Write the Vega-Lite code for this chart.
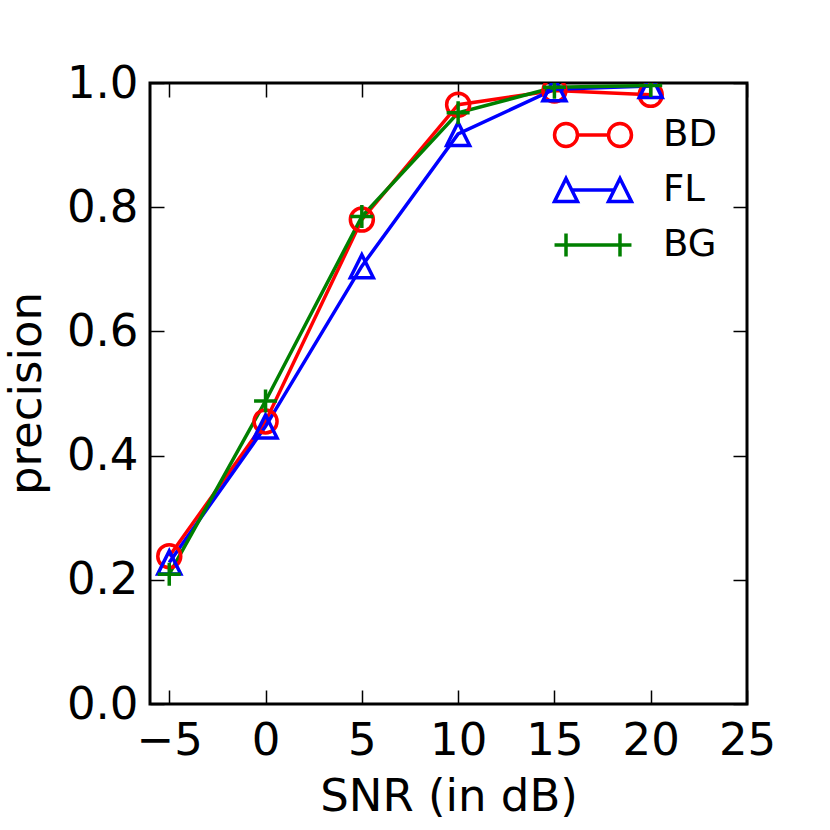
{
  "$schema": "https://vega.github.io/schema/vega-lite/v6.json",
  "autosize": "none",
  "padding": {"left": 150, "top": 83, "right": 83, "bottom": 126},
  "width": 597,
  "height": 621,
  "background": "white",
  "config": {
    "font": "DejaVu Sans",
    "view": {"stroke": "black", "strokeWidth": 3},
    "axis": {
      "grid": false,
      "domain": false,
      "tickColor": "black",
      "tickWidth": 1.5,
      "tickSize": -14,
      "labelColor": "black",
      "labelFont": "DejaVu Sans",
      "labelFontSize": 45,
      "labelFlush": false,
      "titleColor": "black",
      "titleFont": "DejaVu Sans",
      "titleFontSize": 45,
      "titleFontWeight": "normal"
    }
  },
  "data": {
    "values": [
      {"snr": -5, "precision": 0.238, "series": "BD"},
      {"snr": 0, "precision": 0.455, "series": "BD"},
      {"snr": 5, "precision": 0.780, "series": "BD"},
      {"snr": 10, "precision": 0.965, "series": "BD"},
      {"snr": 15, "precision": 0.988, "series": "BD"},
      {"snr": 20, "precision": 0.981, "series": "BD"},
      {"snr": -5, "precision": 0.228, "series": "FL"},
      {"snr": 0, "precision": 0.447, "series": "FL"},
      {"snr": 5, "precision": 0.705, "series": "FL"},
      {"snr": 10, "precision": 0.918, "series": "FL"},
      {"snr": 15, "precision": 0.990, "series": "FL"},
      {"snr": 20, "precision": 0.995, "series": "FL"},
      {"snr": -5, "precision": 0.209, "series": "BG"},
      {"snr": 0, "precision": 0.488, "series": "BG"},
      {"snr": 5, "precision": 0.785, "series": "BG"},
      {"snr": 10, "precision": 0.952, "series": "BG"},
      {"snr": 15, "precision": 0.993, "series": "BG"},
      {"snr": 20, "precision": 0.996, "series": "BG"}
    ]
  },
  "resolve": {
    "scale": {"color": "independent", "shape": "independent"},
    "axis": {"x": "independent", "y": "independent"}
  },
  "layer": [
    {
      "mark": {"type": "line", "strokeWidth": 3.5, "clip": true},
      "encoding": {
        "x": {
          "field": "snr", "type": "quantitative",
          "scale": {"domain": [-6, 25], "nice": false, "zero": false},
          "axis": {
            "orient": "bottom", "values": [-5, 0, 5, 10, 15, 20, 25],
            "labelBaseline": "alphabetic", "labelPadding": 64,
            "title": "SNR (in dB)", "titleBaseline": "alphabetic", "titleY": 106
          }
        },
        "y": {
          "field": "precision", "type": "quantitative",
          "scale": {"domain": [0, 1], "nice": false},
          "axis": {
            "orient": "left", "values": [0, 0.2, 0.4, 0.6, 0.8, 1.0], "format": ".1f",
            "labelPadding": 26,
            "title": "precision", "titleBaseline": "alphabetic", "titleX": -110, "titleY": 310
          }
        },
        "color": {
          "field": "series", "type": "nominal",
          "scale": {"domain": ["BD", "FL", "BG"], "range": ["#ff0000", "#0000ff", "#008000"]},
          "legend": null
        },
        "detail": {"field": "series"}
      }
    },
    {
      "mark": {"type": "point", "filled": false, "strokeWidth": 3.5, "size": 529, "opacity": 1, "clip": true},
      "encoding": {
        "x": {
          "field": "snr", "type": "quantitative",
          "axis": {"orient": "top", "values": [-5, 0, 5, 10, 15, 20, 25], "labels": false, "title": null}
        },
        "y": {
          "field": "precision", "type": "quantitative",
          "axis": {"orient": "right", "values": [0, 0.2, 0.4, 0.6, 0.8, 1.0], "labels": false, "title": null}
        },
        "color": {
          "field": "series", "type": "nominal",
          "scale": {"domain": ["BD", "FL", "BG"], "range": ["#ff0000", "#0000ff", "#008000"]},
          "legend": null
        },
        "shape": {
          "field": "series", "type": "nominal",
          "scale": {
            "domain": ["BD", "FL", "BG"],
            "range": [
              "M1,0A1,1,0,1,1,-1,0A1,1,0,1,1,1,0Z",
              "M0,-1L1,1L-1,1Z",
              "M-1,0L1,0M0,-1L0,1"
            ]
          },
          "legend": null
        }
      }
    },
    {
      "mark": {"type": "point", "filled": false, "strokeWidth": 3.5, "opacity": 0},
      "encoding": {
        "x": {"field": "snr", "type": "quantitative", "axis": null},
        "y": {"field": "precision", "type": "quantitative", "axis": null},
        "color": {
          "field": "series", "type": "nominal",
          "scale": {"domain": ["BD", "FL", "BG"], "range": ["#ff0000", "#0000ff", "#008000"]},
          "legend": {
            "orient": "none", "legendX": 413, "legendY": 22, "title": null,
            "symbolSize": 3136, "symbolStrokeWidth": 3.5, "symbolOpacity": 1,
            "labelFontSize": 37, "labelFont": "DejaVu Sans", "labelColor": "black",
            "labelOffset": 40, "rowPadding": 6, "padding": 0
          }
        },
        "shape": {
          "field": "series", "type": "nominal",
          "scale": {
            "domain": ["BD", "FL", "BG"],
            "range": [
              "M-0.554,0A0.41,0.41,0,1,1,-1.374,0A0.41,0.41,0,1,1,-0.554,0ZM-0.554,0L0.554,0M1.374,0A0.41,0.41,0,1,1,0.554,0A0.41,0.41,0,1,1,1.374,0Z",
              "M-0.964,-0.41L-0.554,0.41L-1.374,0.41ZM-0.759,0L0.759,0M0.964,-0.41L1.374,0.41L0.554,0.41Z",
              "M-1.374,0L1.374,0M-0.964,-0.41L-0.964,0.41M0.964,-0.41L0.964,0.41"
            ]
          },
          "legend": {
            "orient": "none", "legendX": 413, "legendY": 22, "title": null,
            "symbolSize": 3136, "symbolStrokeWidth": 3.5, "symbolOpacity": 1,
            "labelFontSize": 37, "labelFont": "DejaVu Sans", "labelColor": "black",
            "labelOffset": 40, "rowPadding": 6, "padding": 0
          }
        }
      }
    }
  ]
}
